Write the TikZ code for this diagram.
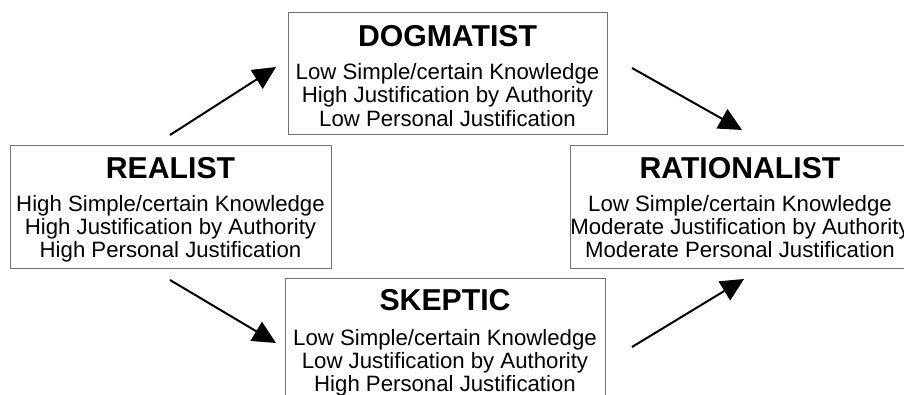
\documentclass[tikz,border=0pt]{standalone}
\usepackage{fontspec}
\setmainfont{Liberation Sans}
\usetikzlibrary{arrows.meta}

\begin{document}
\begin{tikzpicture}[x=1pt,y=-1pt,
  stance/.style={draw=black!55, line width=1.3pt, fill=white, inner sep=0pt},
  heading/.style={anchor=base, inner sep=0pt, font=\fontsize{30.2}{32}\selectfont\bfseries},
  trait/.style={anchor=base, inner sep=0pt, font=\fontsize{22.2}{24}\selectfont},
  moveto/.style={line width=2pt, -{Triangle[length=23pt,width=22pt]}}]

\useasboundingbox (0,0) rectangle (904,394);
\clip (0,0) rectangle (904,394);

% --- DOGMATIST (top centre)
\node[stance, minimum width=319pt, minimum height=122pt, anchor=north west] (dog) at (288,12) {};
\node[heading] (dogT) at (447.5,46) {DOGMATIST};
\node[trait] (dog1) at (447.5,79) {Low Simple/certain Knowledge};
\node[trait] (dog2) at (447.5,102.5) {High Justification by Authority};
\node[trait] (dog3) at (447.5,126) {Low Personal Justification};

% --- REALIST (left)
\node[stance, minimum width=321pt, minimum height=123pt, anchor=north west] (real) at (10,145) {};
\node[heading] (realT) at (170.5,178) {REALIST};
\node[trait] (real1) at (170.5,211) {High Simple/certain Knowledge};
\node[trait] (real2) at (170.5,234) {High Justification by Authority};
\node[trait] (real3) at (170.5,257) {High Personal Justification};

% --- RATIONALIST (right)
\node[stance, minimum width=340pt, minimum height=123pt, anchor=north west] (rat) at (570,145) {};
\node[heading] (ratT) at (740,178) {RATIONALIST};
\node[trait] (rat1) at (740,211) {Low Simple/certain Knowledge};
\node[trait] (rat2) at (740,234) {Moderate Justification by Authority};
\node[trait] (rat3) at (740,257) {Moderate Personal Justification};

% --- SKEPTIC (bottom centre)
\node[stance, minimum width=320pt, minimum height=124pt, anchor=north west] (skep) at (285,278) {};
\node[heading] (skepT) at (445,310) {SKEPTIC};
\node[trait] (skep1) at (445,345) {Low Simple/certain Knowledge};
\node[trait] (skep2) at (445,368) {Low Justification by Authority};
\node[trait] (skep3) at (445,391) {High Personal Justification};

% --- arrow end points between the boxes
\coordinate (a1s) at (170,135);  \coordinate (a1e) at (276,67);
\coordinate (a2s) at (632,68);   \coordinate (a2e) at (742,130);
\coordinate (a3s) at (170,280);  \coordinate (a3e) at (276,343);
\coordinate (a4s) at (632,347);  \coordinate (a4e) at (744,279);

\draw[moveto] (a1s) -- (a1e);
\draw[moveto] (a2s) -- (a2e);
\draw[moveto] (a3s) -- (a3e);
\draw[moveto] (a4s) -- (a4e);
\end{tikzpicture}
\end{document}
